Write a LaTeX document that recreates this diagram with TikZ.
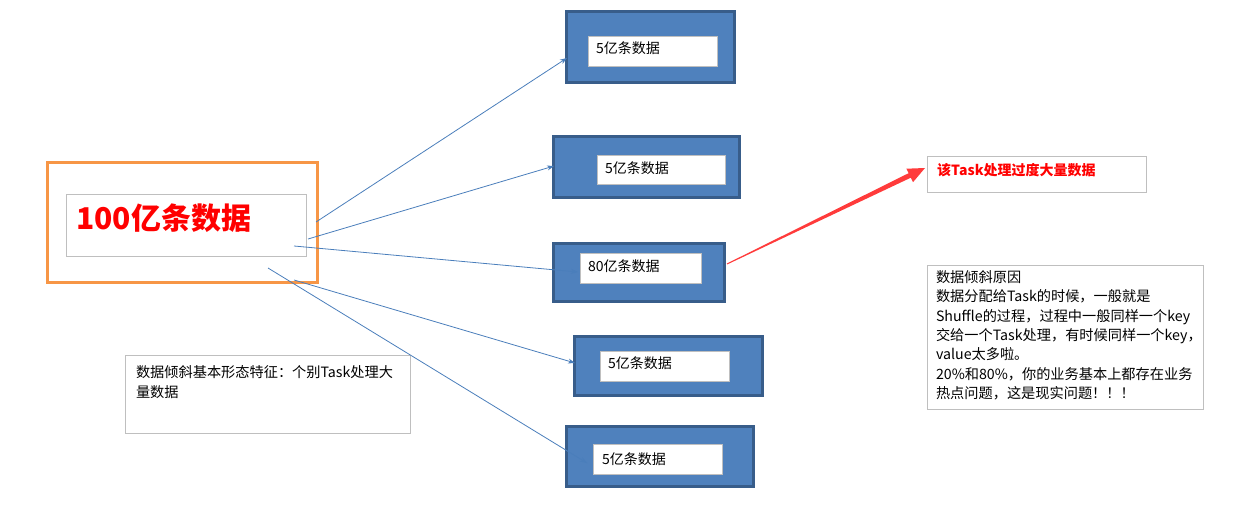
\documentclass[tikz,border=0pt]{standalone}
\usepackage{fontspec}
\newfontfamily\cjk{Noto Sans CJK SC}
\usetikzlibrary{arrows.meta}
\definecolor{orangeb}{HTML}{F79646}
\definecolor{boxblue}{HTML}{4F81BD}
\definecolor{boxedge}{HTML}{385D8A}
\definecolor{linkblue}{HTML}{4A7EBB}
\definecolor{greyedge}{HTML}{BFBFBF}
\definecolor{arrowred}{HTML}{FF3B3B}
\tikzset{
  rectnode/.style={anchor=north west, inner sep=0pt, outer sep=0pt, rectangle},
  bluebox/.style={rectnode, fill=boxblue, draw=boxedge, line width=3pt},
  whitebox/.style={rectnode, fill=white, draw=greyedge, line width=1pt},
  greybox/.style={rectnode, draw=greyedge, line width=1pt},
  txt/.style={anchor=base west, inner sep=0pt, outer sep=0pt, font=\cjk\fontsize{14}{16}\selectfont},
  ntxt/.style={anchor=base west, inner sep=0pt, outer sep=0pt, font=\cjk\fontsize{14.2}{16}\selectfont},
  link/.style={draw=linkblue, line width=0.8pt, -{Stealth[length=7pt,width=5pt]}},
}
\begin{document}
\begin{tikzpicture}[x=1pt,y=-1pt]
\useasboundingbox (0,0) rectangle (1247,527);
% left source box
\node[rectnode, draw=orangeb, line width=3pt, minimum width=270pt, minimum height=120pt] (src) at (47,162) {};
\node[greybox, minimum width=240pt, minimum height=62pt] (srcin) at (66,194) {};
\node[anchor=base west, inner sep=0pt, text=red, font=\cjk\bfseries\fontsize{30}{32}\selectfont] (srct) at (76,229.4) {100亿条数据};
% blue boxes
\node[bluebox, minimum width=168pt, minimum height=70pt] (b1) at (566,12) {};
\node[whitebox, minimum width=129pt, minimum height=30pt] (b1in) at (588,37) {};
\node[txt] (b1t) at (596,53.3) {5亿条数据};
\node[bluebox, minimum width=186pt, minimum height=61pt] (b2) at (553,136) {};
\node[whitebox, minimum width=128pt, minimum height=29pt] (b2in) at (597,155) {};
\node[txt] (b2t) at (605,173.3) {5亿条数据};
\node[bluebox, minimum width=171pt, minimum height=58pt] (b3) at (553,243) {};
\node[whitebox, minimum width=121pt, minimum height=30pt] (b3in) at (580,253) {};
\node[txt] (b3t) at (588,271.3) {80亿条数据};
\node[bluebox, minimum width=188pt, minimum height=59pt] (b4) at (574,336) {};
\node[whitebox, minimum width=129pt, minimum height=30pt] (b4in) at (600,351) {};
\node[txt] (b4t) at (608,368.3) {5亿条数据};
\node[bluebox, minimum width=187pt, minimum height=60pt] (b5) at (566,426) {};
\node[whitebox, minimum width=129pt, minimum height=30pt] (b5in) at (593,444) {};
\node[txt] (b5t) at (602,464.3) {5亿条数据};
% red note
\node[greybox, minimum width=219pt, minimum height=36pt] (note) at (927,156) {};
\node[anchor=base west, inner sep=0pt, text=red, font=\cjk\bfseries\fontsize{14}{16}\selectfont] (notet) at (937,175.3) {该Task处理过度大量数据};
% right text box
\node[greybox, minimum width=276pt, minimum height=144pt] (why) at (927,265) {};
\node[ntxt] (w1) at (936,282.3) {数据倾斜原因};
\node[ntxt] (w2) at (936,301.7) {数据分配给Task的时候，一般就是};
\node[ntxt] (w3) at (936,321.1) {Shuffle的过程，过程中一般同样一个key};
\node[ntxt] (w4) at (936,340.5) {交给一个Task处理，有时候同样一个key，};
\node[ntxt] (w5) at (936,359.9) {value太多啦。};
\node[ntxt] (w6) at (936,379.3) {20\%和80\%，你的业务基本上都存在业务};
\node[ntxt] (w7) at (936,398.7) {热点问题，这是现实问题！！！};
% left bottom text box
\node[greybox, minimum width=285pt, minimum height=78pt] (feat) at (125,355) {};
\node[ntxt] (f1) at (136,377.3) {数据倾斜基本形态特征：个别Task处理大};
\node[ntxt] (f2) at (136,397.3) {量数据};
% connector points
\coordinate (sA) at (316,222);
\coordinate (sB) at (308,239);
\coordinate (sC) at (294,246);
\coordinate (sD) at (294,280);
\coordinate (sE) at (268,268);
\coordinate (eA) at (567,58);
\coordinate (eB) at (554,166);
\coordinate (eC) at (578,272);
\coordinate (eD) at (575,363);
\coordinate (eE) at (587,463);
\draw[link] (sA) -- (eA);
\draw[link] (sB) -- (eB);
\draw[link] (sC) -- (eC);
\draw[link] (sD) -- (eD);
\draw[link] (sE) -- (eE);
% red arrow
\coordinate (rS) at (727,264);
\coordinate (rT) at (925,168);
\fill[arrowred] (727.2,264.45) -- (910.8,177.7) -- (913.0,182.2) -- (rT) -- (906.4,168.7) -- (908.6,173.2) -- (726.8,263.55) -- cycle;
\end{tikzpicture}
\end{document}
